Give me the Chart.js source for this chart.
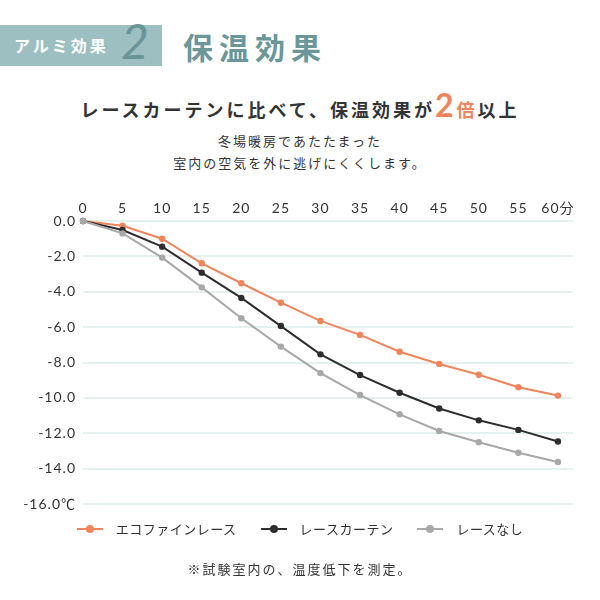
<!DOCTYPE html>
<html>
<head>
<meta charset="utf-8">
<script src="https://cdn.jsdelivr.net/npm/chart.js@4"></script>
<style>
  html, body { margin:0; padding:0; width:600px; height:600px; background:#fff; overflow:hidden; }
  body { position:relative; font-family: Lato, "Noto Sans CJK JP", sans-serif; color:#333; }
  .abs { position:absolute; white-space:nowrap; }
  #box { left:0; top:25px; width:162px; height:41px; background:#9dbfc1; }
  #boxText { left:14px; top:33px; font-size:16px; line-height:24px; font-weight:700; color:#fff; letter-spacing:3px; font-family:"Noto Sans CJK JP", sans-serif; }
  #boxNum { left:121px; top:16px; font-size:48px; line-height:50px; font-style:italic; font-weight:400; color:#6a9496; font-family: Lato, sans-serif; }
  #title { left:183px; top:27px; font-size:30px; line-height:38px; font-weight:700; color:#6b9799; letter-spacing:6px; font-family:"Noto Sans CJK JP", sans-serif; }
  #sub { left:0; width:600px; top:88px; text-align:center; font-size:18px; line-height:34px; font-weight:700; color:#333; letter-spacing:3px; font-family:"Noto Sans CJK JP", sans-serif; }
  #sub .big { font-family: Lato, sans-serif; font-size:32px; color:#f0855c; font-weight:700; }
  #sub .or { color:#f0855c; }
  .small { left:0; width:600px; text-align:center; font-size:13px; line-height:18px; letter-spacing:2px; color:#333; font-family:"Noto Sans CJK JP", sans-serif; }
  #canvasWrap { position:absolute; left:0; top:0; width:600px; height:600px; }
  #legend { left:0; width:600px; top:520px; display:flex; justify-content:center; gap:24px; font-size:13px; line-height:18px; letter-spacing:0.5px; font-family:"Noto Sans CJK JP", sans-serif; color:#333; }
  .li { display:flex; align-items:center; }
  .sw { position:relative; width:26px; height:10px; margin-right:13px; }
  .sw .ln { position:absolute; left:0; top:4px; width:26px; height:2px; }
  .sw .dt { position:absolute; left:9px; top:1px; width:8px; height:8px; border-radius:50%; }
</style>
</head>
<body>
<div class="abs" id="box"></div>
<div class="abs" id="boxText">アルミ効果</div>
<div class="abs" id="boxNum">2</div>
<div class="abs" id="title">保温効果</div>
<div class="abs" id="sub">レースカーテンに比べて、保温効果が<span class="big">2</span><span class="or">倍</span>以上</div>
<div class="abs small" style="top:132px;">冬場暖房であたたまった</div>
<div class="abs small" style="top:154px;">室内の空気を外に逃げにくくします。</div>
<div id="canvasWrap"><canvas id="c" width="600" height="600"></canvas></div>
<div class="abs" id="legend"></div>
<div class="abs small" style="top:560px;">※試験室内の、温度低下を測定。</div>
<script>
const minutes = [0, 5, 10, 15, 20, 25, 30, 35, 40, 45, 50, 55, 60];
const seriesNames = ['エコファインレース', 'レースカーテン', 'レースなし'];
const ecoFine = [0.0, -0.27, -1.0, -2.39, -3.52, -4.62, -5.65, -6.44, -7.39, -8.08, -8.69, -9.4, -9.87];
const laceCurtain = [0.0, -0.51, -1.45, -2.92, -4.35, -5.94, -7.54, -8.71, -9.71, -10.6, -11.27, -11.81, -12.47];
const noLace = [0.0, -0.7, -2.07, -3.75, -5.5, -7.1, -8.6, -9.84, -10.93, -11.87, -12.51, -13.1, -13.62];
const yTicks = [0, -2, -4, -6, -8, -10, -12, -14, -16];
const colors = ['#f0855c', '#2d2d2d', '#a8a8a8'];

const allSeries = [ecoFine, laceCurtain, noLace];
const datasets = allSeries.map((vals, i) => ({
  label: seriesNames[i],
  data: vals.map((v, j) => ({ x: minutes[j], y: v })),
  borderColor: colors[i],
  backgroundColor: colors[i],
  borderWidth: 2,
  pointRadius: 3.2,
  pointHoverRadius: 3.2,
  pointBorderWidth: 0,
  tension: 0,
  clip: false
}));
const ordered = [datasets[2], datasets[1], datasets[0]];

const spacingPlugin = {
  id: 'spacing',
  beforeDraw(chart) { chart.ctx.letterSpacing = '1px'; }
};

const tickFont = { family: 'Lato, "Noto Sans CJK JP", sans-serif', size: 14 };

new Chart(document.getElementById('c'), {
  type: 'line',
  data: { datasets: ordered },
  options: {
    responsive: false,
    animation: false,
    devicePixelRatio: 1,
    layout: { padding: { top: 191, right: 27, bottom: 96, left: 0 } },
    plugins: { legend: { display: false }, tooltip: { enabled: false } },
    scales: {
      x: {
        type: 'linear',
        position: 'top',
        min: 0,
        max: 61.9,
        afterBuildTicks(scale) { scale.ticks = minutes.map(v => ({ value: v })); },
        afterFit(scale) { scale.height = 30; },
        grid: { display: false, drawTicks: false },
        border: { display: false },
        ticks: {
          padding: 4,
          color: '#333',
          font: tickFont,
          maxRotation: 0,
          autoSkip: false,
          callback: v => v === 60 ? '60分' : String(v)
        }
      },
      y: {
        min: -16,
        max: 0,
        afterBuildTicks(scale) { scale.ticks = yTicks.map(v => ({ value: v })); },
        afterFit(scale) { scale.width = 83; },
        grid: { color: '#e5f0f0', lineWidth: 2, drawTicks: false },
        border: { display: false },
        ticks: {
          padding: 7,
          color: '#333',
          font: tickFont,
          callback: v => v === -16 ? '-16.0℃' : (v === 0 ? '0.0' : v.toFixed(1))
        }
      }
    }
  },
  plugins: [spacingPlugin]
});

const legend = document.getElementById('legend');
seriesNames.forEach((name, i) => {
  const li = document.createElement('div');
  li.className = 'li';
  li.innerHTML = '<span class="sw"><span class="ln" style="background:' + colors[i] + '"></span><span class="dt" style="background:' + colors[i] + '"></span></span><span>' + name + '</span>';
  legend.appendChild(li);
});
</script>
</body>
</html>
